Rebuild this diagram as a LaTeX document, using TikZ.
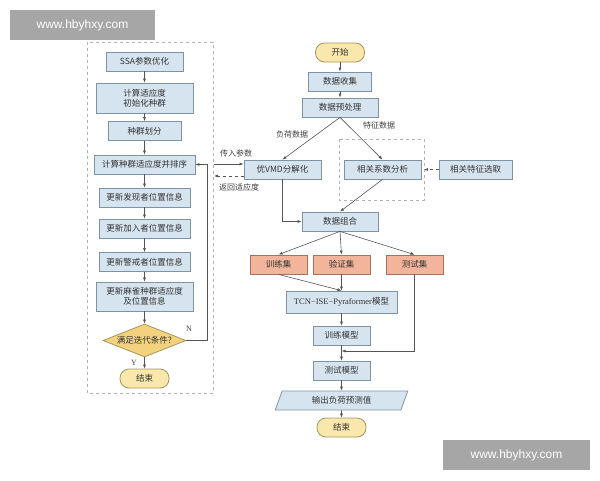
\documentclass[tikz,border=0pt]{standalone}
\usepackage{fontspec}
\setmainfont{Liberation Serif}
\newfontfamily\cjk{Noto Sans CJK SC}
\newfontfamily\wm{Liberation Sans}
\usetikzlibrary{shapes.geometric,arrows.meta}
\definecolor{bfill}{HTML}{D6E4EF}
\definecolor{bdraw}{HTML}{7F93A6}
\definecolor{ofill}{HTML}{F2B59B}
\definecolor{odraw}{HTML}{A9705E}
\definecolor{yfill}{HTML}{FAE7AB}
\definecolor{ydraw}{HTML}{A8955E}
\definecolor{dfill}{HTML}{F3D27E}
\definecolor{lcol}{HTML}{555555}
\begin{document}
\begin{tikzpicture}[x=1pt,y=-1pt,
  every node/.style={font=\cjk\fontsize{8.5}{10}\selectfont, text=black!80, inner sep=1pt, align=center},
  box/.style={draw=bdraw, fill=bfill, line width=0.8pt, minimum height=19pt},
  obox/.style={draw=odraw, fill=ofill, line width=0.8pt, minimum width=57pt, minimum height=19pt},
  term/.style={draw=ydraw, fill=yfill, line width=0.8pt, rounded corners=9pt, minimum width=49pt, minimum height=19pt},
  lbl/.style={font=\cjk\fontsize{8}{9}\selectfont, text=black!75},
  ar/.style={draw=lcol, line width=0.6pt, -{Latex[length=4pt,width=3pt]}},
  dar/.style={ar, dashed},
  dbox/.style={draw=black!30, dashed, line width=0.6pt},
  wmk/.style={fill=black!35, text=white, font=\wm\fontsize{12}{14}\selectfont, inner sep=0pt}]
\useasboundingbox (0,0) rectangle (600,480);
% watermarks
\node[wmk, minimum width=145pt, minimum height=30pt] (w1) at (82.5,25) {www.hbyhxy.com};
\node[wmk, minimum width=147pt, minimum height=30pt] (w2) at (516.5,455) {www.hbyhxy.com};
% left dashed frame
\draw[dbox] (87,42) rectangle (213,393);
\node[box, minimum width=77pt] (s1) at (144.5,61.5) {SSA参数优化};
\node[box, minimum width=97pt, minimum height=30pt] (s2) at (144.5,98) {计算适应度\\初始化种群};
\node[box, minimum width=73pt] (s3) at (144.5,131) {种群划分};
\node[box, minimum width=101pt] (s4) at (144.5,164.5) {计算种群适应度并排序};
\node[box, minimum width=91pt] (s5) at (144.5,197.5) {更新发现者位置信息};
\node[box, minimum width=91pt] (s6) at (144.5,228.5) {更新加入者位置信息};
\node[box, minimum width=91pt] (s7) at (144.5,262) {更新警戒者位置信息};
\node[box, minimum width=97pt, minimum height=29pt] (s8) at (144.5,296.5) {更新麻雀种群适应度\\及位置信息};
\node[diamond, draw=ydraw, fill=dfill, line width=0.8pt, aspect=2.5, inner sep=0pt, minimum width=83pt, minimum height=33pt] (s9) at (144.5,340.5) {满足迭代条件?};
\node[term] (s10) at (144.5,378.5) {结束};
\draw[ar] (s1) -- (s2);
\draw[ar] (s2) -- (s3);
\draw[ar] (s3) -- (s4);
\draw[ar] (s4) -- (s5);
\draw[ar] (s5) -- (s6);
\draw[ar] (s6) -- (s7);
\draw[ar] (s7) -- (s8);
\draw[ar] (s8) -- (s9);
\draw[ar] (s9) -- (s10);
\draw[ar] (s9.east) -- (207,340.5) -- (207,164.5) -- (s4.east);
\node[lbl, font=\fontsize{8}{9}\selectfont] (ln) at (189,329) {N};
\node[lbl, font=\fontsize{8}{9}\selectfont] (ly) at (134,363) {Y};
% right
\node[term] (r1) at (340,52.5) {开始};
\node[box, minimum width=63pt] (r2) at (340,81.5) {数据收集};
\node[box, minimum width=76pt] (r3) at (340,107.5) {数据预处理};
\draw[dbox] (339,139) rectangle (424,200);
\node[box, minimum width=77pt] (vmd) at (282.5,169.5) {优VMD分解化};
\node[box, minimum width=77pt] (corr) at (382.5,169.5) {相关系数分析};
\node[box, minimum width=73pt] (sel) at (475.5,169.5) {相关特征选取};
\coordinate (dbr) at (424,169.5);
\node[box, minimum width=76pt] (comb) at (340,221.5) {数据组合};
\node[obox] (tr) at (278.5,264.5) {训练集};
\node[obox] (va) at (341.5,264.5) {验证集};
\node[obox] (te) at (414.5,264.5) {测试集};
\node[box, minimum width=111pt, minimum height=22pt] (tcn) at (341.5,302) {\fontspec{Liberation Serif}TCN−ISE−Pyraformer\cjk 模型};
\node[box, minimum width=57pt] (trm) at (341.5,335.5) {训练模型};
\node[box, minimum width=57pt] (tem) at (341.5,370.5) {测试模型};
\node[trapezium, trapezium left angle=70, trapezium right angle=110, draw=bdraw, fill=bfill, line width=0.8pt, minimum width=100pt, minimum height=19pt, inner sep=1pt] (out) at (341.5,400.5) {输出负荷预测值};
\node[term] (end) at (341.5,427.5) {结束};
\draw[ar] (r1) -- (r2);
\draw[ar] (r2) -- (r3);
\draw[ar] (r3.south) -- (vmd.north);
\draw[ar] (r3.south) -- (corr.north);
\node[lbl] (l1) at (292,134) {负荷数据};
\node[lbl] (l2) at (379,125) {特征数据};
\draw[dar] (sel.west) -- (dbr);
\coordinate (lf1) at (214,164);
\coordinate (lf2) at (214,176);
\draw[ar] (lf1) -- (vmd.west |- lf1);
\draw[dar] (vmd.west |- lf2) -- (lf2);
\node[lbl] (l3) at (236,153) {传入参数};
\node[lbl] (l4) at (239,187) {返回适应度};
\draw[ar] (vmd.south) -- (282.5,221.5) -- (comb.west);
\draw[ar] (corr.south) -- (comb.north);
\draw[ar] (comb.south) -- (tr.north);
\draw[ar] (comb.south) -- (va.north);
\draw[ar] (comb.south) -- (te.north);
\draw[ar] (tr.south) -- (tcn.north);
\draw[ar] (va.south) -- (tcn.north);
\draw[ar] (tcn) -- (trm);
\draw[ar] (trm) -- (tem);
\draw[ar] (te.south) -- (414.5,351) -- (341.5,351);
\draw[ar] (tem) -- (out);
\draw[ar] (out) -- (end);
\end{tikzpicture}
\end{document}
